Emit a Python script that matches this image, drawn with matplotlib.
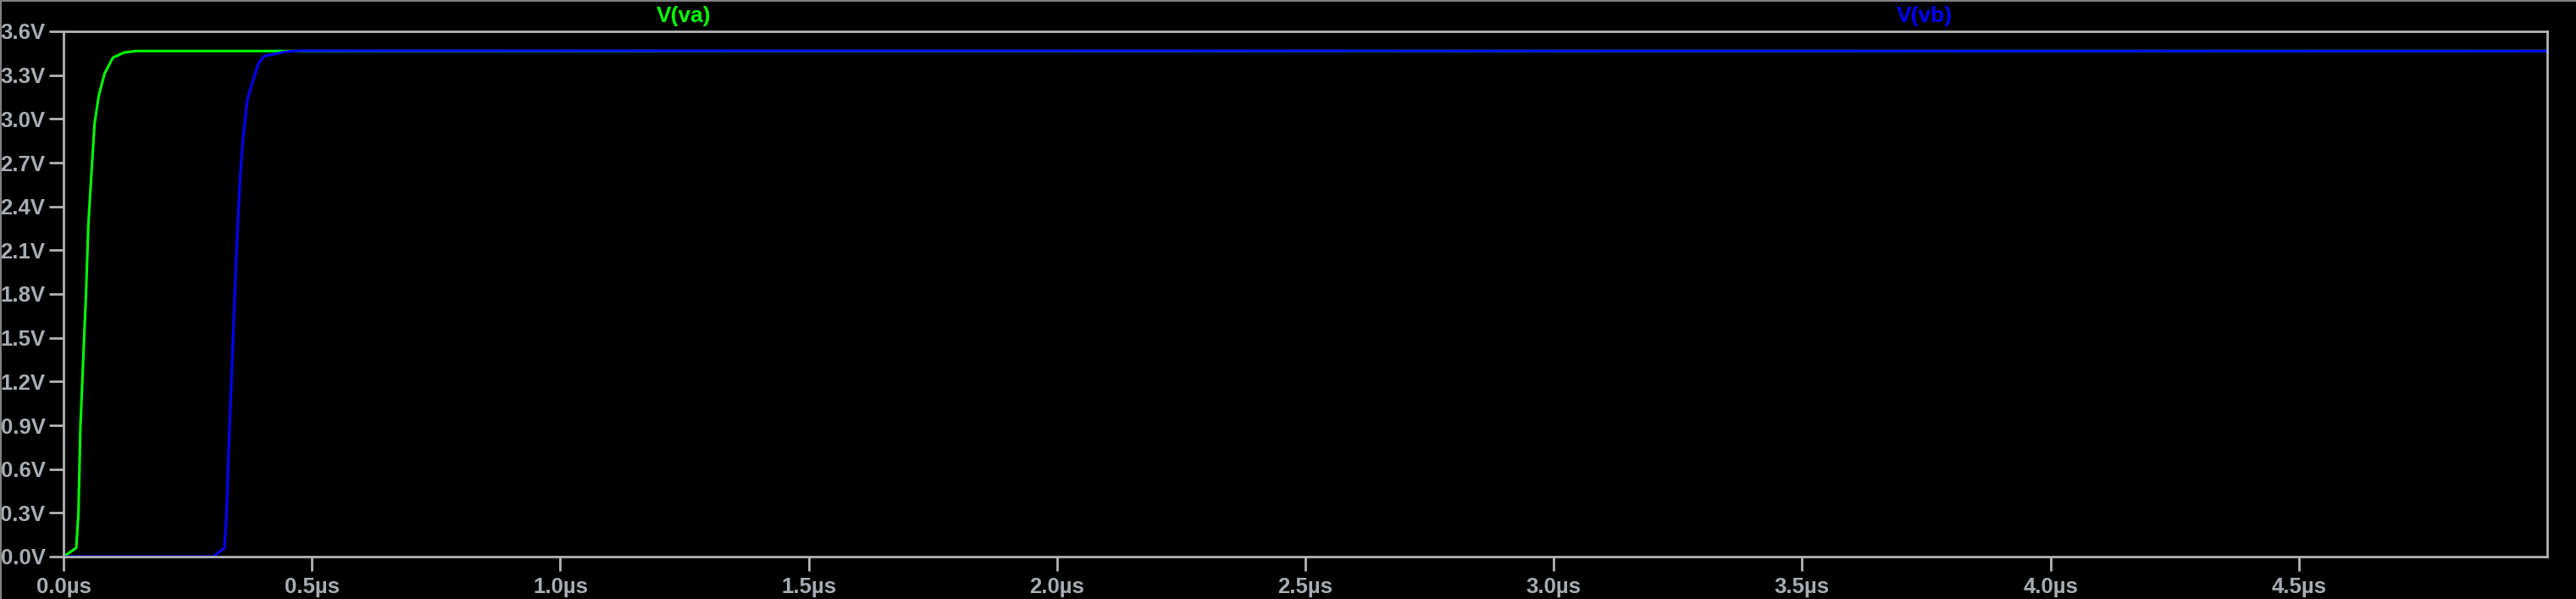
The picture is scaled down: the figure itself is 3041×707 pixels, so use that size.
import numpy as np
import matplotlib.pyplot as plt
from matplotlib.ticker import FuncFormatter

### waveform data (time in us, voltage in V)
t_va = [0.0, 0.0256, 0.030, 0.034, 0.040, 0.0455, 0.050, 0.057, 0.0626, 0.071,
        0.0825, 0.0995, 0.122, 0.145, 5.0]
v_va = [0.0, 0.06, 0.30, 0.89, 1.38, 1.82, 2.28, 2.67, 2.97, 3.16,
        3.31, 3.42, 3.455, 3.465, 3.465]

t_vb = [0.0, 0.3015, 0.324, 0.328, 0.3328, 0.3385, 0.344, 0.350, 0.3555, 0.362,
        0.370, 0.381, 0.3925, 0.404, 0.4465, 0.474, 5.0]
v_vb = [0.0, 0.0, 0.06, 0.28, 0.77, 1.25, 1.74, 2.23, 2.60, 2.89,
        3.13, 3.26, 3.38, 3.43, 3.46, 3.467, 3.465]

y_ticks = np.arange(0, 3.61, 0.3)
x_ticks = np.arange(0, 4.51, 0.5)

gray = '#b4b4b4'
txt = '#a8adb3'
W, H = 3041, 707

fig = plt.figure(figsize=(W/100, H/100), dpi=100, facecolor='black')
ax = fig.add_axes([75/W, (H-657)/H, (3007-75)/W, (657-37)/H], facecolor='black')

ax.plot(t_va, v_va, color='#00ff00', lw=2.2, solid_joinstyle='round')
ax.plot(t_vb, v_vb, color='#0000ff', lw=2.2, solid_joinstyle='round')

ax.set_xlim(0, 5.0)
ax.set_ylim(0, 3.6)
ax.set_xticks(x_ticks)
ax.set_yticks(y_ticks)
ax.xaxis.set_major_formatter(FuncFormatter(lambda v, p: '%.1f\u00b5s' % v))
ax.yaxis.set_major_formatter(FuncFormatter(lambda v, p: '%.1fV' % v))

for s in ax.spines.values():
    s.set_color(gray)
    s.set_linewidth(2.0)
ax.tick_params(axis='both', colors=gray, width=2.0, length=12)
for lab in ax.get_xticklabels() + ax.get_yticklabels():
    lab.set_color(txt)
    lab.set_fontfamily('Liberation Sans')
    lab.set_fontweight('bold')
    lab.set_fontsize(18.5)
ax.tick_params(axis='y', pad=3.5)
ax.tick_params(axis='x', pad=5)

# trace names on top
fig.text(807/W, 1-19/H, 'V(va)', color='#00ff00', fontsize=19, fontweight='bold',
         family='Liberation Sans', ha='center', va='center')
fig.text(2272/W, 1-19/H, 'V(vb)', color='#0000ff', fontsize=19, fontweight='bold',
         family='Liberation Sans', ha='center', va='center')

# window border at top and left
fig.add_artist(plt.Line2D([0, 1], [1-0.5/H, 1-0.5/H], transform=fig.transFigure, color='#808080', lw=1.5))
fig.add_artist(plt.Line2D([0.5/W, 0.5/W], [0, 1], transform=fig.transFigure, color='#808080', lw=1.5))

fig.savefig('out.png', dpi=100, facecolor='black')
